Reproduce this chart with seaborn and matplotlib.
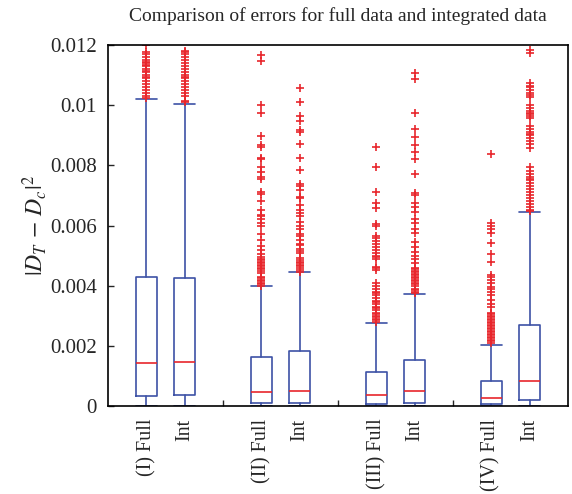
import matplotlib
matplotlib.use("Agg")
import matplotlib.pyplot as plt
import seaborn as sns

sns.set_style("ticks")
plt.rcParams['font.family'] = ['Liberation Serif', 'DejaVu Serif']
plt.rcParams['mathtext.fontset'] = 'stix'

# ---- data ----
labels = ["(I) Full", "Int", "(II) Full", "Int", "(III) Full", "Int", "(IV) Full", "Int"]
q1 = [0.00034, 0.00037, 0.00009, 0.00011, 0.00006, 0.00011, 0.00006, 0.00020]
med = [0.00144, 0.00147, 0.00048, 0.00051, 0.00037, 0.00051, 0.00028, 0.00084]
q3 = [0.00430, 0.00424, 0.00164, 0.00183, 0.00114, 0.00153, 0.00084, 0.00269]
whislo = [0.0, 0.0, 0.0, 0.0, 0.0, 0.0, 0.0, 0.0]
whishi = [0.01020, 0.01005, 0.00399, 0.00444, 0.00277, 0.00372, 0.00203, 0.00646]

fliers_I_full = [0.0120, 0.01175, 0.0117, 0.0116, 0.0115, 0.01145, 0.0114, 0.01135, 0.0113,
                 0.0112, 0.01115, 0.0111, 0.0110, 0.01095, 0.0109, 0.0108, 0.0107, 0.0106,
                 0.0105, 0.0104, 0.0103, 0.01025]
fliers_I_int = [0.0118, 0.01175, 0.0117, 0.0116, 0.0115, 0.0114, 0.0113, 0.0112, 0.0111,
                0.0110, 0.01095, 0.0109, 0.0108, 0.0107, 0.0106, 0.0105, 0.0104, 0.0103,
                0.01015, 0.0101]
fliers_II_full = [0.01167, 0.01147, 0.0100, 0.00973, 0.00898, 0.00868, 0.0086, 0.00823, 0.0082,
                  0.00796, 0.00779, 0.00762, 0.00755, 0.00712, 0.00705, 0.00682, 0.0065,
                  0.00635, 0.0063, 0.0062, 0.0061, 0.006, 0.00572, 0.00552, 0.00532, 0.00519,
                  0.00505, 0.00496, 0.0049, 0.00485, 0.0048, 0.00475, 0.0047, 0.00465, 0.0046,
                  0.00455, 0.0045, 0.00441, 0.0043, 0.00425, 0.0042, 0.00415, 0.0041, 0.00405, 0.004]
fliers_II_int = [0.01056, 0.0101, 0.00964, 0.00948, 0.00917, 0.0091, 0.0087, 0.00825, 0.00783,
                 0.00738, 0.0073, 0.00718, 0.00696, 0.0069, 0.00668, 0.0065, 0.0064, 0.0063,
                 0.00613, 0.006, 0.0059, 0.00572, 0.00565, 0.00552, 0.0054, 0.00535, 0.00521,
                 0.00515, 0.0051, 0.00491, 0.00485, 0.0048, 0.00475, 0.0047, 0.00465, 0.00458,
                 0.00453, 0.00447]
fliers_III_full = [0.00861, 0.00795, 0.00711, 0.00676, 0.00657, 0.00604, 0.006, 0.00566, 0.0056,
                   0.0055, 0.0054, 0.0053, 0.0052, 0.0051, 0.0050, 0.00495, 0.0049, 0.00463,
                   0.00458, 0.00452, 0.0041, 0.004, 0.0039, 0.0038, 0.00375, 0.0037, 0.0036,
                   0.0035, 0.00345, 0.0034, 0.0033, 0.00325, 0.0032, 0.0031, 0.00305, 0.003,
                   0.00295, 0.0029, 0.00285, 0.0028]
fliers_III_int = [0.01106, 0.01086, 0.00975, 0.0092, 0.00895, 0.00868, 0.00845, 0.00821, 0.00771,
                  0.00707, 0.00700, 0.00674, 0.0066, 0.00645, 0.00621, 0.00607, 0.0059, 0.00576,
                  0.00544, 0.0053, 0.00513, 0.005, 0.0049, 0.00474, 0.0046, 0.00455, 0.0045,
                  0.00445, 0.0044, 0.00435, 0.0043, 0.00425, 0.0042, 0.00415, 0.0041, 0.00405,
                  0.004, 0.0039, 0.00385, 0.0038, 0.00376]
fliers_IV_full = [0.00837, 0.00607, 0.006, 0.0059, 0.00574, 0.00541, 0.00505, 0.0048, 0.00435,
                  0.0043, 0.0042, 0.0041, 0.00397, 0.0039, 0.0038, 0.0037, 0.00352, 0.0034,
                  0.0033, 0.0031, 0.00305, 0.003, 0.00295, 0.0029, 0.00285, 0.0028, 0.00275,
                  0.0027, 0.00265, 0.0026, 0.00255, 0.0025, 0.00245, 0.0024, 0.00235, 0.0023,
                  0.00225, 0.0022, 0.00215, 0.0021]
fliers_IV_int = [0.01183, 0.01172, 0.01072, 0.01065, 0.0106, 0.0105, 0.0104, 0.01035, 0.01028,
                 0.0100, 0.0099, 0.0098, 0.00975, 0.0097, 0.00965, 0.00956, 0.00931, 0.0092,
                 0.0091, 0.00905, 0.009, 0.0089, 0.0088, 0.0087, 0.00857, 0.00796, 0.0078,
                 0.0077, 0.0076, 0.00755, 0.0075, 0.0074, 0.0073, 0.0072, 0.0071, 0.007,
                 0.0069, 0.0068, 0.0067, 0.0066, 0.00653, 0.00648]
fliers = [fliers_I_full, fliers_I_int, fliers_II_full, fliers_II_int,
          fliers_III_full, fliers_III_int, fliers_IV_full, fliers_IV_int]

title = "Comparison of errors for full data and integrated data"
ylabel = r"$|D_T\,-\,D_c|^2$"
yticks = [0, 0.002, 0.004, 0.006, 0.008, 0.01, 0.012]
ytick_labels = ["0", "0.002", "0.004", "0.006", "0.008", "0.01", "0.012"]

# ---- layout ----
positions = [1, 2, 4, 5, 7, 8, 10, 11]
separators = [3, 6, 9]

stats = []
for i in range(len(labels)):
    stats.append(dict(label=labels[i], q1=q1[i], med=med[i], q3=q3[i],
                      whislo=whislo[i], whishi=whishi[i], fliers=fliers[i]))

fig = plt.figure(figsize=(5.72, 4.94), dpi=100)
ax = fig.add_axes([0.189, 0.178, 0.804, 0.731])

blue = '#3d52a6'
red = '#e8262c'
ax.bxp(stats, positions=positions, widths=0.56, showfliers=True,
       boxprops=dict(color=blue, linewidth=1.2),
       whiskerprops=dict(color=blue, linewidth=1.2, linestyle='-'),
       capprops=dict(color=blue, linewidth=1.2),
       capwidths=0.56,
       medianprops=dict(color=red, linewidth=1.2),
       flierprops=dict(marker='+', markeredgecolor=red, markersize=5.5, markeredgewidth=1.2,
                       linestyle='none'))

ax.set_xlim(0, 12)
ax.set_ylim(0, 0.012)
ax.set_yticks(yticks)
ax.set_yticklabels(ytick_labels, fontsize=15)
ax.set_xticks(positions)
ax.set_xticklabels(labels, rotation=90, fontsize=14.5)
ax.tick_params(axis='x', length=0, pad=9)
ax.set_xticks(separators, minor=True)
ax.tick_params(axis='x', which='minor', direction='in', length=4, width=1, top=False)
ax.tick_params(axis='y', direction='in', length=4, width=1, right=False, pad=8)
for sp in ax.spines.values():
    sp.set_visible(True)
    sp.set_linewidth(1.2)
    sp.set_color('black')

ax.set_ylabel(ylabel, fontsize=17, labelpad=1)
ax.set_title(title, fontsize=14, pad=17)

fig.savefig("out.png", dpi=100)
